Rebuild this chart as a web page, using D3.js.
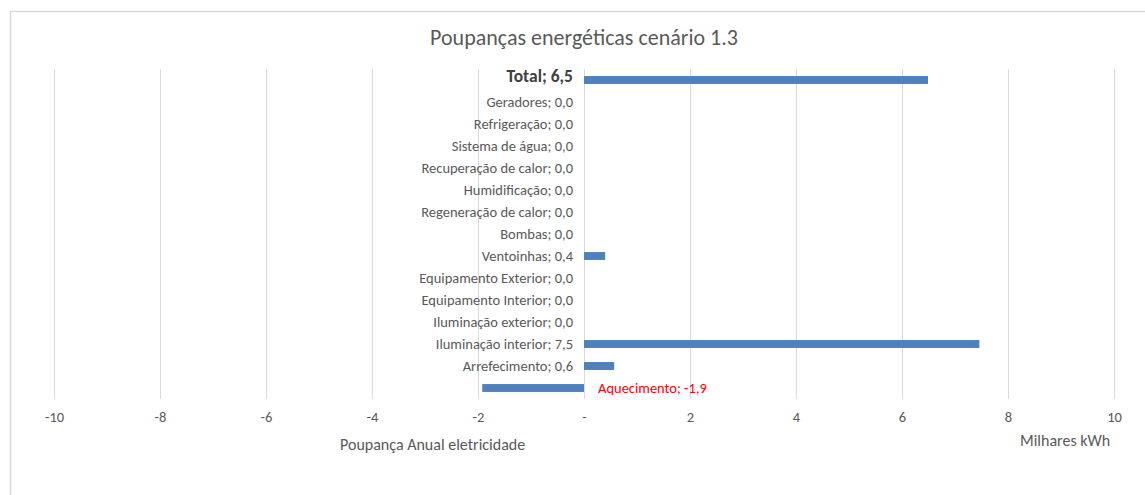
<!DOCTYPE html>
<html>
<head>
<meta charset="utf-8">
<script src="https://cdn.jsdelivr.net/npm/d3@7"></script>
<style>
  body { margin: 0; background: #fff; }
  svg { font-family: Carlito, Calibri, Lato, sans-serif; }
</style>
</head>
<body>
<div id="chart"></div>
<script>
// data (thousands of kWh)
var categories = ["Total", "Geradores", "Refrigeração", "Sistema de água", "Recuperação de calor",
    "Humidificação", "Regeneração de calor", "Bombas", "Ventoinhas", "Equipamento Exterior",
    "Equipamento Interior", "Iluminação exterior", "Iluminação interior", "Arrefecimento", "Aquecimento"];
var values = [6.49, 0, 0, 0, 0, 0, 0, 0, 0.4, 0, 0, 0, 7.46, 0.57, -1.92];
var xTicks = [-10, -8, -6, -4, -2, 0, 2, 4, 6, 8, 10];

var data = categories.map(function (c, i) { return {name: c, value: values[i]}; });

var W = 1145, H = 495;
var margin = {top: 69, right: 31, bottom: 96, left: 54},
    width = W - margin.left - margin.right,
    height = H - margin.top - margin.bottom;

var svg = d3.select("#chart").append("svg")
    .attr("width", W)
    .attr("height", H);

// outer chart border
svg.append("rect")
    .attr("x", 10.5).attr("y", 11.5)
    .attr("width", W).attr("height", H)
    .attr("fill", "none")
    .attr("stroke", "#d9d9d9")
    .attr("stroke-width", 1.5);

svg.append("text")
    .attr("x", 584)
    .attr("y", 45)
    .attr("text-anchor", "middle")
    .style("font-size", "22px")
    .style("fill", "#595959")
    .text("Poupanças energéticas cenário 1.3");

var g = svg.append("g")
    .attr("transform", "translate(" + margin.left + "," + margin.top + ")");

var x = d3.scaleLinear()
    .domain([-10, 10])
    .range([0, width]);

var y = d3.scaleBand()
    .domain(categories)
    .range([0, height])
    .paddingInner(0.64)
    .paddingOuter(0.32);

// vertical gridlines
g.selectAll(".grid")
    .data(xTicks)
    .enter().append("line")
    .attr("class", "grid")
    .attr("x1", function (d) { return Math.round(x(d)) + 0.5; })
    .attr("x2", function (d) { return Math.round(x(d)) + 0.5; })
    .attr("y1", 0)
    .attr("y2", height)
    .attr("stroke", "#d9d9d9")
    .attr("stroke-width", 1);

// x axis (labels only)
var xAxis = g.append("g")
    .attr("transform", "translate(0," + height + ")")
    .call(d3.axisBottom(x)
        .tickValues(xTicks)
        .tickSize(0)
        .tickPadding(13)
        .tickFormat(function (d) { return d === 0 ? "-" : d; }));
xAxis.select(".domain").remove();
xAxis.selectAll("text")
    .attr("fill", "#595959")
    .style("font-size", "14.5px")
    .style("font-family", "Carlito, Calibri, Lato, sans-serif");

// bars
g.selectAll(".bar")
    .data(data)
    .enter().append("rect")
    .attr("class", "bar")
    .attr("x", function (d) { return x(Math.min(0, d.value)); })
    .attr("y", function (d) { return y(d.name); })
    .attr("width", function (d) { return Math.abs(x(d.value) - x(0)); })
    .attr("height", y.bandwidth())
    .attr("fill", "#4f81bd");

// data labels
g.selectAll(".lbl")
    .data(data)
    .enter().append("text")
    .attr("class", "lbl")
    .attr("x", function (d) { return d.value < 0 ? x(0) + 14 : x(0) - 11; })
    .attr("y", function (d) { return y(d.name) + y.bandwidth() / 2; })
    .attr("dy", function (d) { return d.name === "Total" ? "0.12em" : "0.35em"; })
    .attr("text-anchor", function (d) { return d.value < 0 ? "start" : "end"; })
    .style("font-size", function (d) { return d.name === "Total" ? "17.5px" : "14.5px"; })
    .style("font-weight", function (d) { return d.name === "Total" ? "bold" : "normal"; })
    .style("fill", function (d) {
        if (d.value < 0) return "#ff0000";
        return d.name === "Total" ? "#404040" : "#595959";
    })
    .text(function (d) { return d.name + "; " + d3.format(".1f")(d.value).replace(".", ",").replace("−", "-"); });

// axis titles
svg.append("text")
    .attr("x", 340)
    .attr("y", 450)
    .style("font-size", "16px")
    .style("fill", "#595959")
    .text("Poupança Anual eletricidade");

svg.append("text")
    .attr("x", 1020)
    .attr("y", 446)
    .style("font-size", "16px")
    .style("fill", "#595959")
    .text("Milhares kWh");
</script>
</body>
</html>
